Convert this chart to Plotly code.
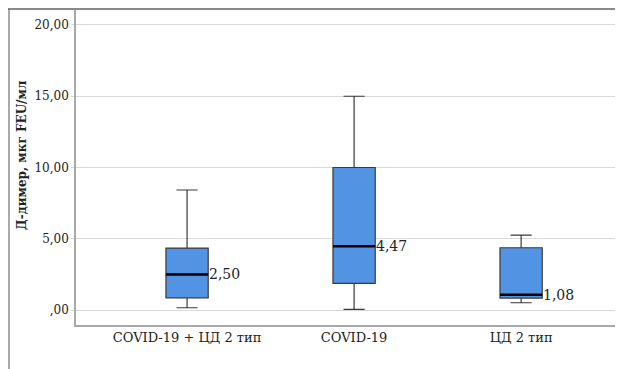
import plotly.graph_objects as go

categories = ["COVID-19 + ЦД 2 тип", "COVID-19", "ЦД 2 тип"]
lower_whisker = [0.16, 0.05, 0.51]
q1_values = [0.86, 1.87, 0.84]
median_values = [2.50, 4.47, 1.08]
q3_values = [4.35, 10.00, 4.37]
upper_whisker = [8.42, 15.00, 5.26]
y_tick_values = [0, 5, 10, 15, 20]
y_tick_labels = [",00", "5,00", "10,00", "15,00", "20,00"]

positions = list(range(len(categories)))
box_w = 0.253
serif = "DejaVu Serif"

fig = go.Figure()
fig.add_trace(go.Box(
    x=positions, q1=q1_values, median=median_values, q3=q3_values,
    lowerfence=lower_whisker, upperfence=upper_whisker,
    width=box_w, whiskerwidth=0.5,
    fillcolor="#5393e3", line=dict(color="#3a3a3a", width=1.2),
    showlegend=False, hoverinfo="skip", boxpoints=False,
))

mx, my = [], []
for p, m in zip(positions, median_values):
    mx += [p - box_w / 2, p + box_w / 2, None]
    my += [m, m, None]
fig.add_trace(go.Scatter(x=mx, y=my, mode="lines",
                         line=dict(color="#000000", width=2.5),
                         showlegend=False, hoverinfo="skip"))

for p, m in zip(positions, median_values):
    fig.add_annotation(x=p + box_w / 2, y=m, text=f"{m:.2f}".replace(".", ","),
                       xanchor="left", yanchor="middle", showarrow=False, xshift=-1,
                       font=dict(family=serif, size=14, color="#222"))

fig.add_annotation(xref="paper", yref="paper", x=(22 - 76) / 547, y=(325 - 155) / 316,
                   text="<b>Д-димер, мкг FEU/мл</b>", textangle=-90, showarrow=False,
                   xanchor="center", yanchor="middle",
                   font=dict(family=serif, size=12, color="#222"))

# outer frame lines
fig.add_shape(type="line", xref="paper", yref="paper",
              x0=(8 - 76) / 547, x1=1, y0=1, y1=1,
              line=dict(color="#8a8a8a", width=2))
fig.add_shape(type="line", xref="paper", yref="paper",
              x0=(9 - 76) / 547, x1=(9 - 76) / 547, y0=1, y1=(325 - 369) / 316,
              line=dict(color="#555", width=1))

fig.update_layout(
    width=615, height=361,
    margin=dict(l=68, r=0, t=1, b=44),
    paper_bgcolor="white", plot_bgcolor="white",
    xaxis=dict(range=[-0.665, 2.61], tickvals=positions, ticktext=categories,
               showgrid=False, zeroline=False, showline=True, linecolor="#a8a8a8",
               linewidth=1.5, ticks="", tickfont=dict(family=serif, size=13, color="#222")),
    yaxis=dict(range=[-1.05, 21.12], tickvals=y_tick_values, ticktext=y_tick_labels,
               showgrid=True, gridcolor="#d8d8d8", gridwidth=1, zeroline=False,
               showline=True, linecolor="#a8a8a8", linewidth=1.5, ticks="outside",
               ticklen=3, tickcolor="#d8d8d8",
               tickfont=dict(family=serif, size=12, color="#222")),
)

fig.write_html("out.html")
